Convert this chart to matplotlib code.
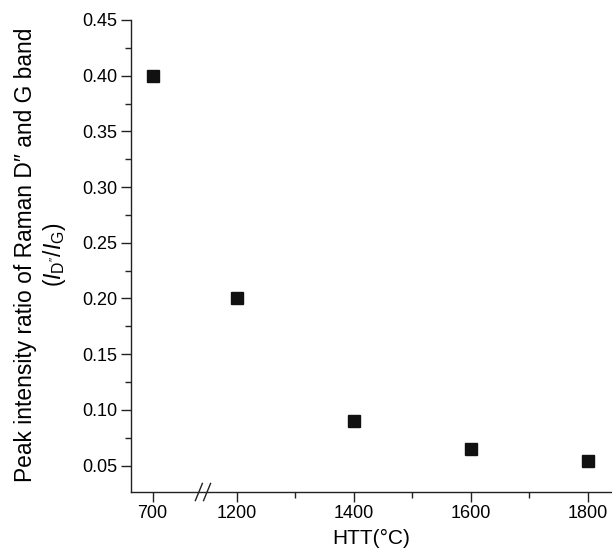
import matplotlib
matplotlib.use("Agg")
import matplotlib.pyplot as plt
from matplotlib.ticker import MultipleLocator, FixedLocator, FormatStrFormatter

plt.rcParams['font.family'] = ['Liberation Sans', 'DejaVu Sans']
plt.rcParams['mathtext.fontset'] = 'custom'
plt.rcParams['mathtext.rm'] = 'Liberation Sans'
plt.rcParams['mathtext.it'] = 'Liberation Sans:italic'
plt.rcParams['mathtext.bf'] = 'Liberation Sans:bold'

# Data
htt = [700, 1200, 1400, 1600, 1800]
ratio = [0.40, 0.20, 0.09, 0.065, 0.054]
xtick_labels = ['700', '1200', '1400', '1600', '1800']

# Broken axis: 700 is placed to the left of the break
def xpos(v):
    return 1056 if v == 700 else v

W, H = 612, 558
fig = plt.figure(figsize=(W/100, H/100), dpi=100)
ax = fig.add_axes([131/W, 1 - 492/H, 1 - 131/W, (492 - 20)/H])

ax.plot([xpos(v) for v in htt], ratio, linestyle='none', marker='s',
        markersize=8.6, color='#111111')

ymin = 0.0263
ax.set_xlim(1019, 1841)
ax.set_ylim(ymin, 0.45)

ax.xaxis.set_major_locator(FixedLocator([xpos(v) for v in htt]))
ax.set_xticklabels(xtick_labels)
ax.xaxis.set_minor_locator(FixedLocator([1300, 1500, 1700]))
ax.yaxis.set_major_locator(MultipleLocator(0.05))
ax.yaxis.set_minor_locator(MultipleLocator(0.025))
ax.yaxis.set_major_formatter(FormatStrFormatter('%.2f'))

for s in ['top', 'right']:
    ax.spines[s].set_visible(False)
for s in ['left', 'bottom']:
    ax.spines[s].set_linewidth(1.0)
    ax.spines[s].set_color('#222222')

ax.tick_params(which='major', direction='out', length=7, width=1.0,
               labelsize=13, color='#222222', pad=3)
ax.tick_params(axis='x', which='major', pad=2)
ax.tick_params(which='minor', direction='out', length=4, width=1.0,
               color='#222222')

# break marks
bx = 1142
for dx in (-7, 7):
    ax.plot([bx + dx - 6, bx + dx + 6], [ymin - 0.0077, ymin + 0.0077],
            color='#222222', lw=1.0, clip_on=False)

ax.set_xlabel('HTT(°C)', fontsize=15, labelpad=5)

yc = 1 - 255/H
fig.text(26/W, yc, "Peak intensity ratio of Raman D\u2033 and G band",
         rotation=90, ha='center', va='center', fontsize=16.4)
fig.text(54/W, yc, r"($\mathit{I}_{\mathrm{D''}}/\mathit{I}_{\mathrm{G}}$)",
         rotation=90, ha='center', va='center', fontsize=16.4)

fig.savefig('out.png', dpi=100)
